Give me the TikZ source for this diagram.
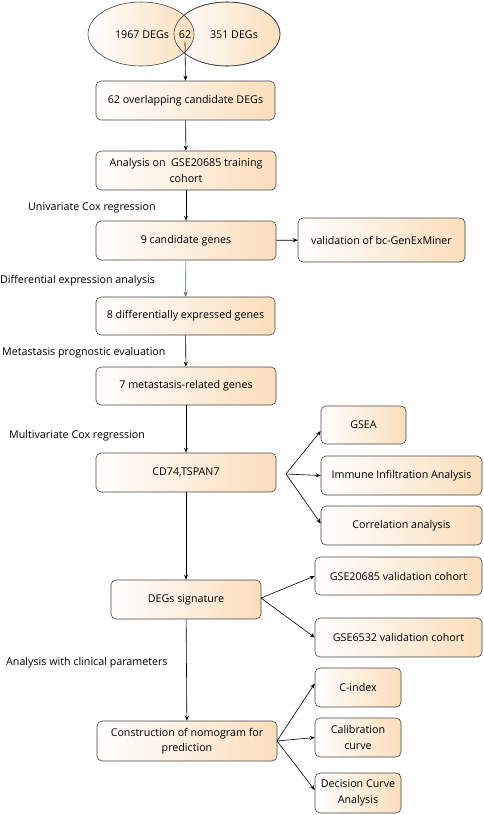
\documentclass[tikz,border=0pt]{standalone}
\usepackage{fontspec}
\setmainfont{Open Sans}
\usepackage{tikz}
\usetikzlibrary{arrows.meta,positioning,shapes.geometric}

\definecolor{peach}{RGB}{250,222,188}
\definecolor{edgegray}{RGB}{70,70,70}
\definecolor{steel}{RGB}{70,110,150}

\begin{document}
\begin{tikzpicture}[
    x=1pt, y=-1pt,
    font=\fontsize{10.7}{15.5}\selectfont,
    stepbox/.style={
        rectangle,
        rounded corners=5pt,
        draw=edgegray,
        line width=0.6pt,
        left color=white,
        right color=peach,
        align=center,
        inner sep=2pt
    },
    setshape/.style={
        ellipse,
        draw=edgegray,
        line width=0.6pt,
        left color=white,
        right color=peach,
        minimum width=106pt,
        minimum height=64pt
    },
    note/.style={anchor=west, inner sep=0pt},
    flow/.style={draw,-{Stealth[length=5pt,width=4pt]},line width=0.6pt}
]
\useasboundingbox (0,0) rectangle (484,815);

% Venn sets
\node[setshape] (setR) at (227,34) {};
\node[setshape] (setL) at (141,34) {};
\draw[edgegray, line width=0.6pt] (227,34) ellipse [x radius=53, y radius=32];
\node (degA) at (142,35) {1967 DEGs};
\node (both) at (185,35) {62};
\node (degB) at (234,35) {351 DEGs};

% main column
\node[stepbox, minimum width=179pt, minimum height=39pt] (overlap) at (185.5,100.5) {62 overlapping candidate DEGs};
\node[stepbox, minimum width=180pt, minimum height=39pt] (train) at (186,170.5) {Analysis on\ \ GSE20685 training\\cohort};
\node[stepbox, minimum width=180pt, minimum height=39pt] (cand) at (186,240.5) {9 candidate genes};
\node[stepbox, minimum width=167pt, minimum height=44pt] (miner) at (381.5,240) {validation of bc-GenExMiner};
\node[stepbox, minimum width=179pt, minimum height=38pt] (diff) at (185.5,316) {8 differentially expressed genes};
\node[stepbox, minimum width=180pt, minimum height=38pt] (meta) at (186,386) {7 metastasis-related genes};
\node[stepbox, minimum width=180pt, minimum height=39pt] (hub) at (186,472.5) {CD74,TSPAN7};
\node[stepbox, minimum width=150pt, minimum height=39pt] (sig) at (186,599.5) {DEGs signature};
\node[stepbox, minimum width=180pt, minimum height=40pt] (nomo) at (187,741) {Construction of nomogram for\\prediction};

% right column
\node[stepbox, minimum width=85pt, minimum height=38pt] (gsea) at (363.5,425) {GSEA};
\node[stepbox, minimum width=161pt, minimum height=39pt] (immune) at (401.5,475.5) {Immune Infiltration Analysis};
\node[stepbox, minimum width=161pt, minimum height=39pt] (corr) at (401.5,525.5) {Correlation analysis};
\node[stepbox, minimum width=167pt, minimum height=38pt] (valA) at (398.5,576) {GSE20685 validation cohort};
\node[stepbox, minimum width=167pt, minimum height=39pt] (valB) at (398.5,637.5) {GSE6532 validation cohort};
\node[stepbox, minimum width=86pt, minimum height=39pt] (cidx) at (358,687.5) {C-index};
\node[stepbox, minimum width=86pt, minimum height=39pt] (calib) at (358,737.5) {Calibration\\curve};
\node[stepbox, minimum width=86pt, minimum height=40pt] (dca) at (358,793) {Decision Curve\\Analysis};

% step labels
\node[note] (uni) at (28,208) {Univariate Cox regression};
\node[note] (dea) at (0,281) {Differential expression analysis};
\node[note] (mpe) at (2,353) {Metastasis prognostic evaluation};
\node[note] (multi) at (9,436) {Multivariate Cox regression};
\node[note] (clin) at (6,663) {Analysis with clinical parameters};

% connectors
\draw[flow] (both.south) -- (overlap.north);
\draw[flow] (overlap) -- (train);
\draw[flow] (train) -- (cand);
\draw[flow] (cand) -- (miner);
\draw[flow, steel] (cand) -- (diff);
\draw[flow] (diff) -- (meta);
\draw[flow] (meta) -- (hub);
\draw[flow] (hub) -- (sig);
\draw[flow] (sig) -- (nomo);

\coordinate (fanA) at (286,474);
\draw[flow] (fanA) -- ([yshift=-6pt]gsea.west);
\draw[flow] (fanA) -- (immune.west);
\draw[flow] (fanA) -- ([yshift=2pt]corr.west);

\coordinate (fanB) at (261,598);
\draw[flow] (fanB) -- (valA.west);
\draw[flow] (fanB) -- (valB.west);

\coordinate (fanC) at (277,741);
\draw[flow] (fanC) -- ([yshift=4pt]cidx.west);
\draw[flow] (fanC) -- (calib.west);
\draw[flow] (fanC) -- ([yshift=3pt]dca.west);
\end{tikzpicture}
\end{document}
